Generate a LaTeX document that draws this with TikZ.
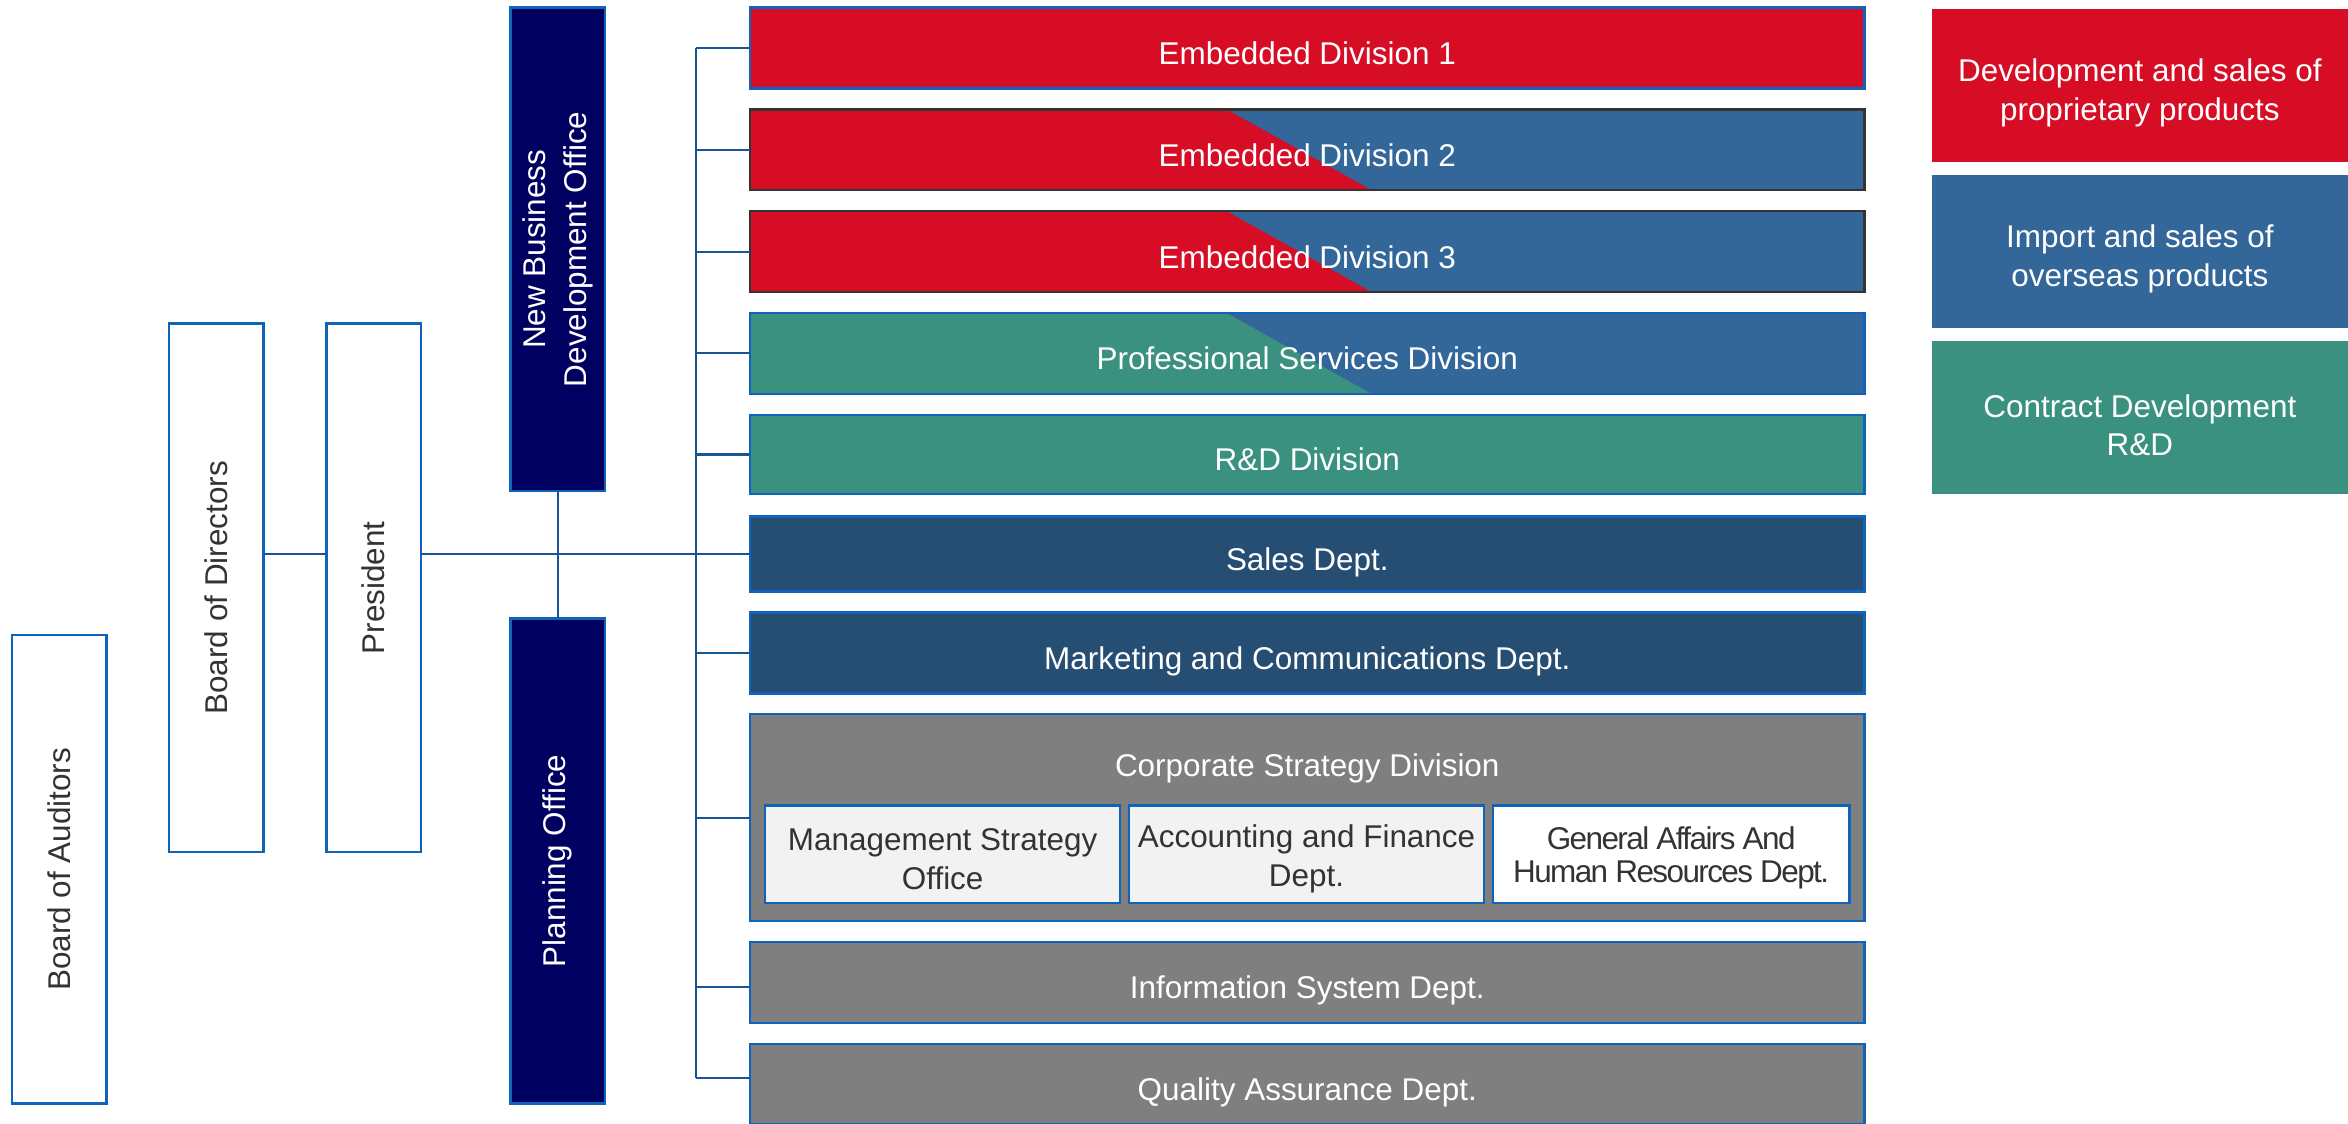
\documentclass[tikz,border=0pt]{standalone}
\usepackage{fontspec}
\setmainfont{Liberation Sans}
\definecolor{cred}{RGB}{215,12,37}
\definecolor{cblue}{RGB}{51,102,153}
\definecolor{cgreen}{RGB}{58,145,127}
\definecolor{cnavy}{RGB}{38,78,115}
\definecolor{cdark}{RGB}{0,0,96}
\definecolor{cgray}{RGB}{127,127,127}
\definecolor{clight}{RGB}{242,242,242}
\definecolor{cborder}{RGB}{16,99,186}
\definecolor{cline}{RGB}{22,86,150}
\definecolor{ctext}{RGB}{51,51,51}
\definecolor{cdborder}{RGB}{51,51,51}
\tikzset{
  base/.style={rectangle, inner sep=0pt, outer sep=0pt, line width=0.8pt, font=\fontsize{10.5}{13}\selectfont, align=center},
  wbox/.style={base, draw=cborder, fill=white, text=ctext},
  vbox/.style={base, draw=cborder, fill=cdark, text=white},
  mbox/.style={base, draw=cborder, text=white, minimum width=372pt, minimum height=27pt, text height=11pt, text depth=0pt},
  subbox/.style={base, draw=cborder, fill=clight, minimum width=118.5pt, minimum height=32.5pt},
  legbox/.style={base, minimum width=139pt, minimum height=51pt},
  txt/.style={base, text=white},
  conn/.style={draw=cline, line width=0.7pt},
  vlabel/.style={rotate=90, font=\fontsize{10.5}{13.5}\selectfont, align=center, inner sep=0pt},
  split/.style 2 args={fill=#2, path picture={\fill[#1] (path picture bounding box.north west) -- ([xshift=159pt]path picture bounding box.north west) -- ([xshift=207.5pt]path picture bounding box.south west) -- (path picture bounding box.south west) -- cycle;}}
}
\begin{document}
\begin{tikzpicture}[x=0.5pt, y=-0.5pt]
\useasboundingbox (0,0) rectangle (1568,750);
\begin{scope}
\clip (0,0) rectangle (1568,750);
% left column boxes
\node[wbox, minimum width=31.5pt, minimum height=156.5pt] (aud) at (39.5,580.5) {};
\node[vlabel, text=ctext] (audt) at (aud) {Board of Auditors};
\node[wbox, minimum width=31.5pt, minimum height=176.5pt] (bod) at (144.5,392.5) {};
\node[vlabel, text=ctext] (bodt) at (bod) {Board of Directors};
\node[wbox, minimum width=31.5pt, minimum height=176.5pt] (pres) at (249.5,392.5) {};
\node[vlabel, text=ctext] (prest) at (pres) {President};
\node[vbox, minimum width=31.5pt, minimum height=161.5pt] (nbdo) at (372.5,166.5) {};
\node[vlabel, text=white] (nbdot) at (nbdo) {New Business\\Development Office};
\node[vbox, minimum width=31.5pt, minimum height=162pt] (plan) at (372.5,575) {};
\node[vlabel, text=white] (plant) at (plan) {Planning Office};
% main boxes
\node[mbox, fill=cred] (emb1) at (873,32) {Embedded Division 1};
\node[mbox, draw=cdborder, split={cred}{cblue}] (emb2) at (873,100) {Embedded Division 2};
\node[mbox, draw=cdborder, split={cred}{cblue}] (emb3) at (873,168) {Embedded Division 3};
\node[mbox, split={cgreen}{cblue}] (pro) at (873,236) {Professional Services Division};
\node[mbox, fill=cgreen, minimum height=26.5pt] (rd) at (873,303.5) {R\&D Division};
\node[mbox, fill=cnavy, minimum height=25pt] (sales) at (873,370) {Sales Dept.};
\node[mbox, fill=cnavy] (mkt) at (873,436) {Marketing and Communications Dept.};
\node[mbox, fill=cgray, minimum height=69pt] (corp) at (873,546) {};
\node[txt] (corpt) at (873,513) {Corporate Strategy Division};
\node[subbox] (mso) at (629.5,570.5) {};
\node[txt, text=ctext, yshift=-1.5pt] (msot) at (mso) {Management Strategy\\Office};
\node[subbox] (afd) at (872.5,570.5) {};
\node[txt, text=ctext, yshift=-1.5pt] (afdt) at (afd) {Accounting and Finance\\Dept.};
\node[subbox, fill=white, minimum width=119pt] (ga) at (1116,570.5) {};
\node[txt, text=ctext, yshift=-1.25pt, font=\fontsize{10.5}{11}\selectfont\addfontfeature{LetterSpace=-5}] (gat) at (ga) {General Affairs And\\Human Resources Dept.};
\node[mbox, fill=cgray] (info) at (873,656) {Information System Dept.};
\node[mbox, fill=cgray] (qa) at (873,724) {Quality Assurance Dept.};
% legend
\node[legbox, fill=cred] (leg1) at (1429,57) {};
\node[txt, yshift=-2.5pt] (leg1t) at (leg1) {Development and sales of\\proprietary products};
\node[legbox, fill=cblue] (leg2) at (1429,168) {};
\node[txt, yshift=-2.5pt] (leg2t) at (leg2) {Import and sales of\\overseas products};
\node[legbox, fill=cgreen] (leg3) at (1429,279) {};
\node[txt, yshift=-2.5pt] (leg3t) at (leg3) {Contract Development\\R\&D};
% connectors
\coordinate (tr) at (464.5,0);
\coordinate (infoin) at ([yshift=-1.5pt]info.west);
\coordinate (qain) at ([yshift=2pt]qa.west);
\draw[conn] (bod.east |- sales.west) -- (pres.west |- sales.west);
\draw[conn] (pres.east |- sales.west) -- (sales.west);
\draw[conn] (nbdo.south) -- (plan.north);
\draw[conn] (tr |- emb1.west) -- (tr |- qain);
\foreach \b in {emb1,emb2,emb3,pro,rd,mkt,corp,infoin,qain}
  \draw[conn] (tr |- \b) -- (\b);
\end{scope}
\end{tikzpicture}
\end{document}
